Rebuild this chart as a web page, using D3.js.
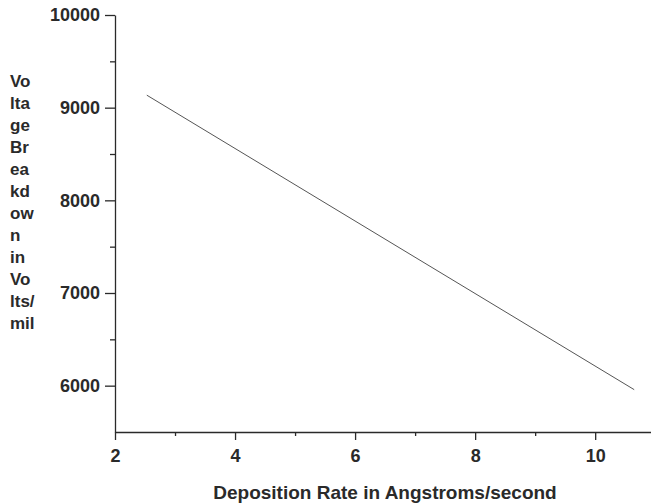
<!DOCTYPE html>
<html>
<head>
<meta charset="utf-8">
<script src="https://cdn.jsdelivr.net/npm/d3@7"></script>
<style>
    body { margin: 0; background: #fff; }
    svg { display: block; }
</style>
</head>
<body>
<svg id="chart"></svg>
<script>
    'use strict';

    // fitted line (end points)
    const depositionRate = [2.53, 10.65];
    const breakdownVoltage = [9135, 5957];

    const xTicks = [2, 4, 6, 8, 10];
    const xMinorTicks = [3, 5, 7, 9];
    const yTicks = [6000, 7000, 8000, 9000, 10000];
    const yMinorTicks = [6500, 7500, 8500, 9500];
    const yTitleLines = ['Vo', 'lta', 'ge', 'Br', 'ea', 'kd', 'ow', 'n', 'in', 'Vo', 'lts/', 'mil'];
    const xTitle = 'Deposition Rate in Angstroms/second';

    const width = 651;
    const height = 503;
    const ink = '#2a2a2a';
    const font = '"Liberation Sans", Arial, sans-serif';

    const x = d3.scaleLinear()
        .domain([2, 10.93])
        .range([115, 651]);

    const y = d3.scaleLinear()
        .domain([5500, 10000])
        .range([432, 15]);

    const svg = d3.select('#chart')
        .attr('width', width)
        .attr('height', height);

    // x axis
    const xAxis = svg.append('g')
        .attr('transform', `translate(0, ${y(5500)})`)
        .call(d3.axisBottom(x)
            .tickValues(xTicks)
            .tickSize(8)
            .tickSizeOuter(0)
            .tickPadding(9)
            .tickFormat(d3.format('d')));

    svg.append('g')
        .attr('transform', `translate(0, ${y(5500)})`)
        .call(d3.axisBottom(x)
            .tickValues(xMinorTicks)
            .tickSize(4)
            .tickSizeOuter(0)
            .tickFormat(''))
        .select('.domain').remove();

    // y axis
    const yAxis = svg.append('g')
        .attr('transform', `translate(${x(2)}, 0)`)
        .call(d3.axisLeft(y)
            .tickValues(yTicks)
            .tickSize(10)
            .tickSizeOuter(0)
            .tickPadding(5)
            .tickFormat(d3.format('d')));

    svg.append('g')
        .attr('transform', `translate(${x(2)}, 0)`)
        .call(d3.axisLeft(y)
            .tickValues(yMinorTicks)
            .tickSize(5)
            .tickSizeOuter(0)
            .tickFormat(''))
        .select('.domain').remove();

    svg.selectAll('.domain, .tick line')
        .attr('stroke', ink)
        .attr('stroke-width', 1.3);

    [xAxis, yAxis].forEach((g) => {
        g.selectAll('text')
            .attr('fill', ink)
            .attr('font-family', font)
            .attr('font-weight', 'bold')
            .attr('font-size', 18);
    });

    // line
    const line = d3.line()
        .x((d, i) => x(depositionRate[i]))
        .y((d) => y(d));

    svg.append('path')
        .datum(breakdownVoltage)
        .attr('d', line)
        .attr('fill', 'none')
        .attr('stroke', '#555')
        .attr('stroke-width', 1);

    // titles
    svg.append('text')
        .attr('x', 385)
        .attr('y', 499)
        .attr('text-anchor', 'middle')
        .attr('fill', ink)
        .attr('font-family', font)
        .attr('font-weight', 'bold')
        .attr('font-size', 19)
        .text(xTitle);

    svg.append('g')
        .selectAll('text')
        .data(yTitleLines)
        .enter().append('text')
            .attr('x', 10)
            .attr('y', (d, i) => 87 + i * 22)
            .attr('fill', ink)
            .attr('font-family', font)
            .attr('font-weight', 'bold')
            .attr('font-size', 17)
            .text((d) => d);
</script>
</body>
</html>
